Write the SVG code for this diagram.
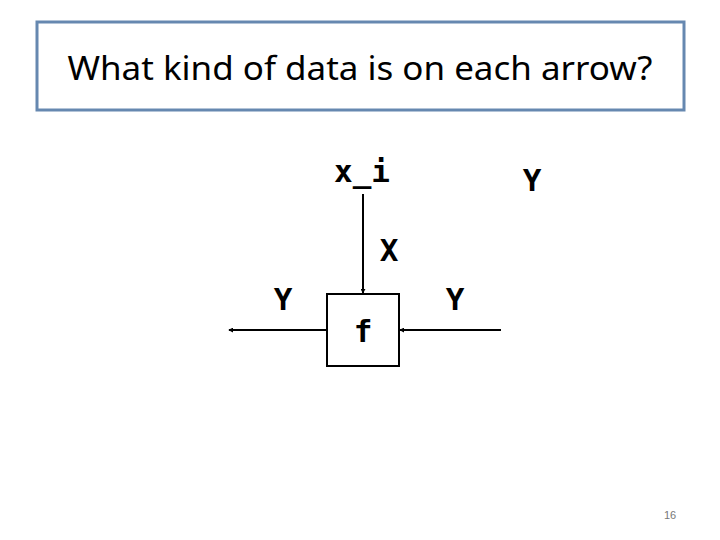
<svg xmlns="http://www.w3.org/2000/svg" width="720" height="540" viewBox="0 0 720 540">
<defs>
<marker id="dot" viewBox="0 0 6 6" refX="5" refY="3" markerWidth="2.5" markerHeight="2.5" orient="auto">
<path d="M0,0 L6,3 L0,6 z" fill="#000"/>
</marker>
<style>
.lbl{font-family:"DejaVu Sans Mono",monospace;font-size:31px;font-weight:bold;fill:#000}
.ln{stroke:#000;stroke-width:2;fill:none}
</style>
</defs>
<rect width="720" height="540" fill="#fff"/>
<g id="title">
<rect x="37" y="22" width="647" height="88" fill="#fff" stroke="#6688b0" stroke-width="3"/>
<text x="360" y="80" text-anchor="middle" font-family="'Noto Sans','Liberation Sans',sans-serif" font-size="33" textLength="585" lengthAdjust="spacingAndGlyphs">What kind of data is on each arrow?</text>
</g>
<g id="f">
<rect x="327" y="294" width="72" height="72" fill="#fff" stroke="#000" stroke-width="2"/>
<text class="lbl" x="363" y="342" text-anchor="middle">f</text>
</g>
<g id="connectors">
<line class="ln" x1="363" y1="194" x2="363" y2="293" marker-end="url(#dot)"/>
<line class="ln" x1="327" y1="330" x2="229" y2="330" marker-end="url(#dot)"/>
<line class="ln" x1="501" y1="330" x2="400" y2="330" marker-end="url(#dot)"/>
</g>
<g id="labels">
<text class="lbl" x="362" y="182" text-anchor="middle">x_i</text>
<text class="lbl" x="532" y="191" text-anchor="middle">Y</text>
<text class="lbl" x="389" y="261" text-anchor="middle">X</text>
<text class="lbl" x="283" y="310" text-anchor="middle">Y</text>
<text class="lbl" x="455" y="310" text-anchor="middle">Y</text>
</g>
<text x="670" y="519" text-anchor="middle" font-family="'Liberation Sans',Arial,sans-serif" font-size="11" fill="#777">16</text>
</svg>
